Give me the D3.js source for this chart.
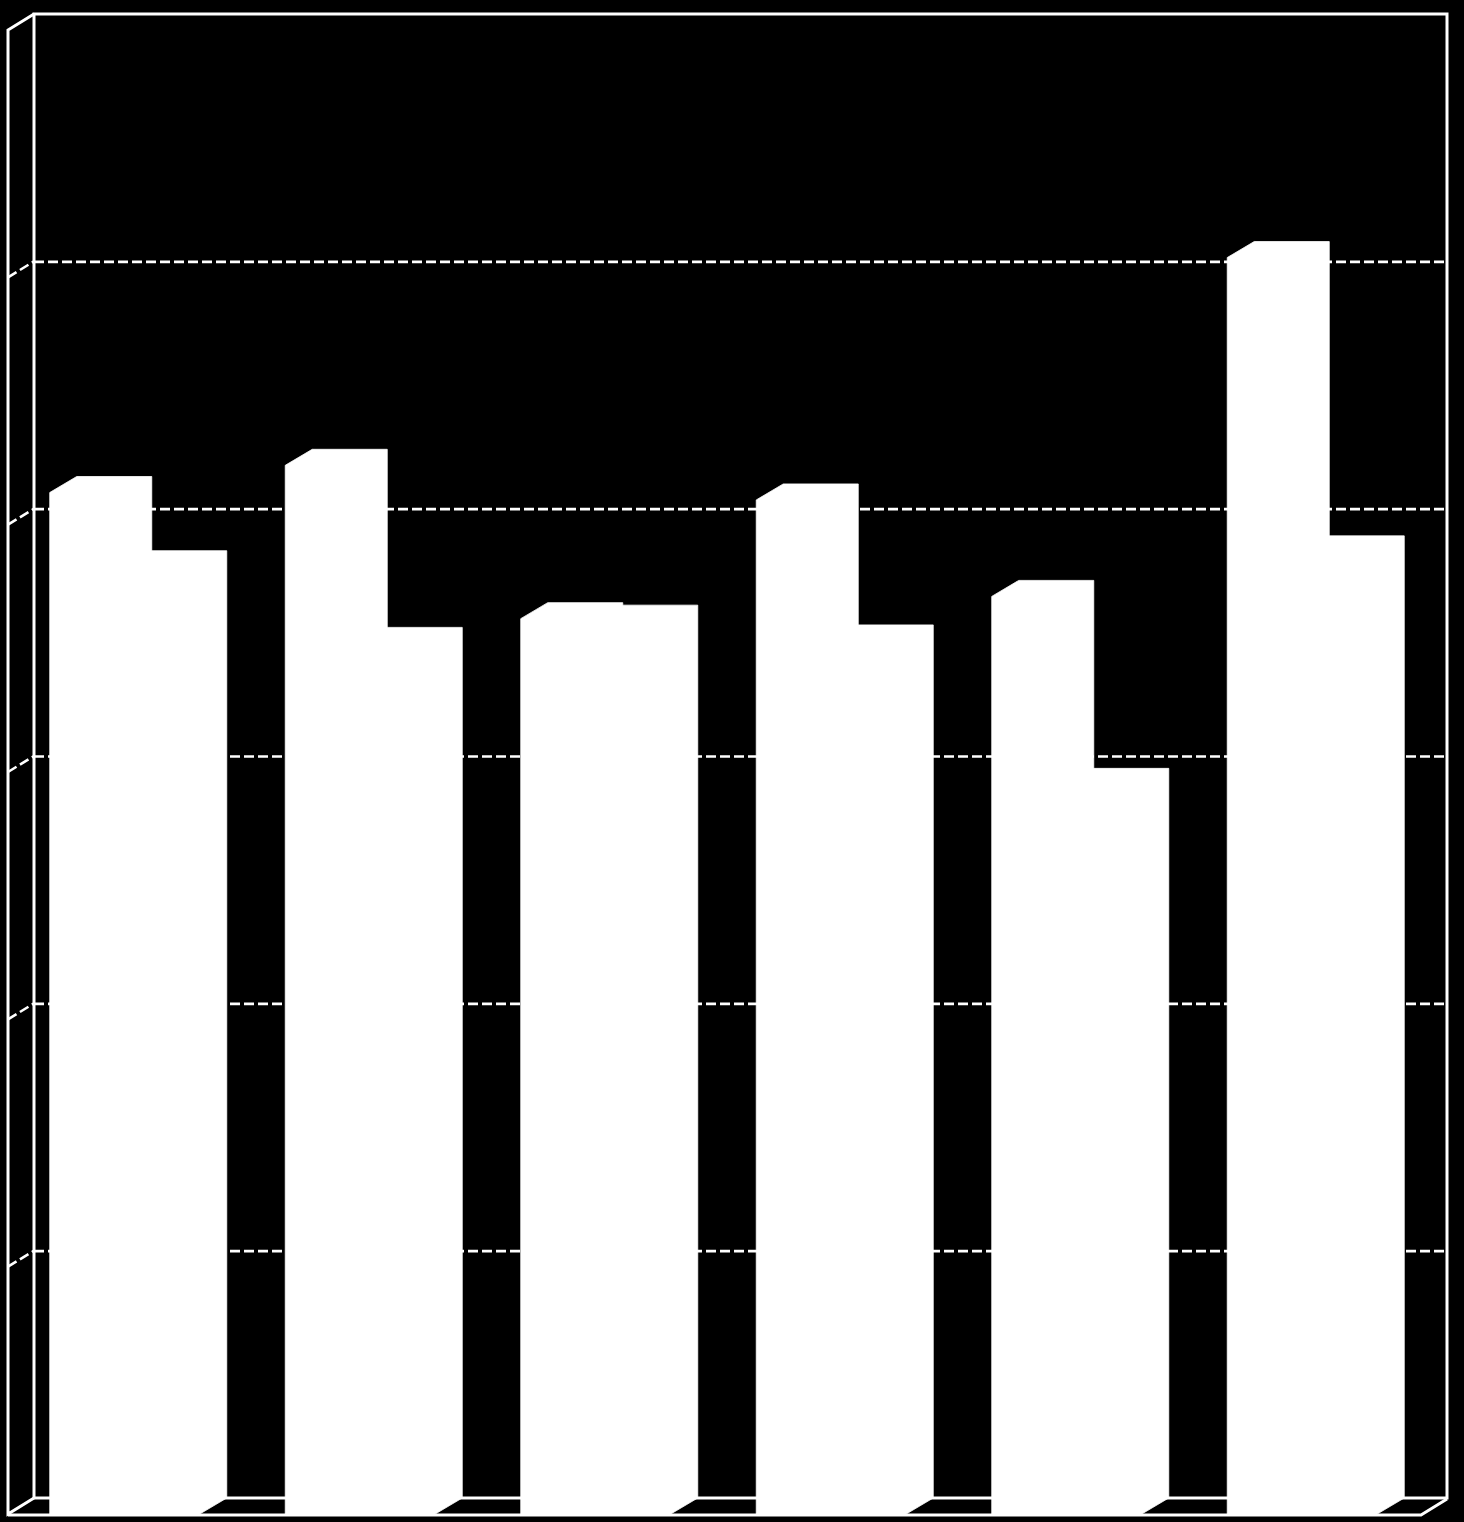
<!DOCTYPE html>
<html>
<head>
<meta charset="utf-8">
<script src="https://cdn.jsdelivr.net/npm/d3@7"></script>
<style>
html, body { margin: 0; padding: 0; background: #000; }
svg { display: block; }
</style>
</head>
<body>
<svg id="chart" width="1464" height="1522"></svg>
<script>
// ---- data ----
const categories = ["1", "2", "3", "4", "5", "6"];
const seriesNames = ["A", "B"];
const seriesA = [41.3, 42.4, 36.2, 41.0, 37.1, 50.8];
const seriesB = [38.3, 35.2, 36.1, 35.3, 29.5, 38.9];
const yTicks = [0, 10, 20, 30, 40, 50, 60];

// ---- layout ----
const W = 1464, H = 1522;
const wall = { x0: 34, x1: 1447, top: 14, bottom: 1498 };
const depth = { dx: -26, dy: 16 };   // back -> front offset
const barDepth = { dx: -27, dy: 16 };

const svg = d3.select("#chart");
svg.append("rect").attr("width", W).attr("height", H).attr("fill", "#000");

const y = d3.scaleLinear().domain([0, 60]).range([wall.bottom, wall.top]);
const x = d3.scaleBand().domain(categories).range([wall.x0, wall.x1])
  .paddingInner(0.363).paddingOuter(0.1815);
const xs = d3.scaleBand().domain(seriesNames).range([0, x.bandwidth()]).padding(0);

const white = "#fff";

// ---- walls ----
const g = svg.append("g");
g.append("rect")
  .attr("x", wall.x0).attr("y", wall.top)
  .attr("width", wall.x1 - wall.x0).attr("height", wall.bottom - wall.top)
  .attr("fill", "none").attr("stroke", white).attr("stroke-width", 3);
const fx = wall.x0 + depth.dx;
g.append("path")
  .attr("d", `M${wall.x0},${wall.top} L${fx},${wall.top + depth.dy} L${fx},${wall.bottom + depth.dy} L${wall.x0},${wall.bottom}`)
  .attr("fill", "none").attr("stroke", white).attr("stroke-width", 3).attr("stroke-linejoin", "miter");

// ---- gridlines (dashed) ----
const gridTicks = yTicks.filter(t => t > 0 && t < 60);
const grid = svg.append("g").attr("transform", `translate(${wall.x0},0)`)
  .call(d3.axisRight(y).tickValues(gridTicks).tickSize(wall.x1 - wall.x0).tickFormat(""));
grid.select(".domain").remove();
grid.selectAll(".tick line")
  .attr("stroke", white).attr("stroke-width", 2.6).attr("stroke-dasharray", "10,4");
svg.append("g").selectAll("line").data(gridTicks).join("line")
  .attr("x1", fx).attr("y1", d => y(d) + depth.dy)
  .attr("x2", wall.x0).attr("y2", d => y(d))
  .attr("stroke", white).attr("stroke-width", 2.6).attr("stroke-dasharray", "10,4");

// ---- floor ----
svg.append("path")
  .attr("d", `M${fx},${wall.bottom + depth.dy + 1} L${wall.x1 + depth.dx},${wall.bottom + depth.dy + 1} L${wall.x1},${wall.bottom + 1}`)
  .attr("fill", "none").attr("stroke", white).attr("stroke-width", 3);

// ---- bars ----
const rows = [];
categories.forEach((c, i) => {
  rows.push({ cat: c, s: "B", v: seriesB[i] });
  rows.push({ cat: c, s: "A", v: seriesA[i] });
});

function barPath(d) {
  const bx = x(d.cat) + xs(d.s);
  const w = xs.bandwidth();
  const yt = y(d.v), yb = y(0);
  const dx = barDepth.dx, dy = barDepth.dy;
  return `M${bx + dx},${yb + dy} L${bx + dx},${yt + dy} L${bx},${yt} L${bx + w},${yt} L${bx + w},${yb} L${bx + w + dx},${yb + dy} Z`;
}

svg.append("g").selectAll("path").data(rows).join("path")
  .attr("d", barPath)
  .attr("fill", white)
  .attr("stroke", white).attr("stroke-width", 0.8);
</script>
</body>
</html>
